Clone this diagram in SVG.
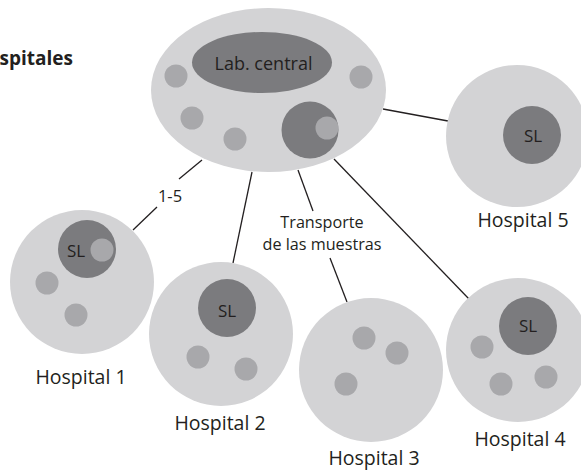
<svg xmlns="http://www.w3.org/2000/svg" width="581" height="473" viewBox="0 0 581 473">
<style>
.bg{fill:#d3d3d5}
.dk{fill:#7b7b7e}
.md{fill:#a8a8ab}
.ln{stroke:#231f20;stroke-width:1.3;fill:none}
text{font-family:"Open Sans","Liberation Sans",sans-serif;fill:#231f20}
.lbl{font-size:19.5px;text-anchor:middle}
.sl{font-size:17px;text-anchor:middle}
.sm{font-size:16.5px;text-anchor:middle}
.tr{font-size:16.2px;text-anchor:middle}
</style>
<rect width="581" height="473" fill="#ffffff"/>
<text x="73" y="65" style="font-size:19px;font-weight:bold;text-anchor:end">spitales</text>
<g id="connectors">
<line class="ln" x1="202" y1="160" x2="179" y2="179"/>
<line class="ln" x1="157" y1="207" x2="133" y2="230"/>
<line class="ln" x1="252" y1="172" x2="233" y2="263"/>
<line class="ln" x1="298" y1="170" x2="313" y2="211"/>
<line class="ln" x1="330" y1="258" x2="347" y2="302"/>
<line class="ln" x1="334" y1="159" x2="469" y2="299"/>
<line class="ln" x1="383" y1="109" x2="448" y2="121"/>
<text class="sm" x="170" y="202">1-5</text>
<text class="tr" x="322" y="227.5">Transporte</text>
<text class="tr" x="322" y="249.6">de las muestras</text>
</g>
<g id="central">
<ellipse class="bg" cx="268.5" cy="90" rx="117.5" ry="82"/>
<ellipse class="dk" cx="262" cy="62.5" rx="70" ry="30.5"/>
<text x="263.5" y="70" style="font-size:18px;text-anchor:middle">Lab. central</text>
<circle class="md" cx="176" cy="76" r="11.5"/>
<circle class="md" cx="192" cy="118" r="11.5"/>
<circle class="md" cx="235" cy="139" r="11.5"/>
<circle class="md" cx="361" cy="77" r="11.5"/>
<circle class="dk" cx="310" cy="130" r="28.5"/>
<circle class="md" cx="327" cy="128" r="11.5"/>
</g>
<g id="hospital1">
<circle class="bg" cx="82" cy="282" r="72"/>
<circle class="dk" cx="87" cy="249" r="29"/>
<circle class="md" cx="102" cy="250" r="11.5"/>
<text class="sl" x="76" y="257">SL</text>
<circle class="md" cx="47" cy="283" r="11.5"/>
<circle class="md" cx="76" cy="315" r="11.5"/>
<text class="lbl" x="81" y="384">Hospital 1</text>
</g>
<g id="hospital2">
<circle class="bg" cx="221" cy="334" r="72"/>
<circle class="dk" cx="227" cy="308" r="29"/>
<text class="sl" x="227" y="317">SL</text>
<circle class="md" cx="198" cy="357" r="11.5"/>
<circle class="md" cx="246" cy="369" r="11.5"/>
<text class="lbl" x="220" y="430">Hospital 2</text>
</g>
<g id="hospital3">
<circle class="bg" cx="371" cy="370" r="72"/>
<circle class="md" cx="364" cy="338" r="11.5"/>
<circle class="md" cx="397" cy="353" r="11.5"/>
<circle class="md" cx="346" cy="384" r="11.5"/>
<text class="lbl" x="374" y="465">Hospital 3</text>
</g>
<g id="hospital4">
<circle class="bg" cx="518" cy="350" r="72"/>
<circle class="dk" cx="528" cy="326" r="29"/>
<text class="sl" x="528" y="332">SL</text>
<circle class="md" cx="482" cy="347" r="11.5"/>
<circle class="md" cx="501" cy="384" r="11.5"/>
<circle class="md" cx="546" cy="377" r="11.5"/>
<text class="lbl" x="520" y="446">Hospital 4</text>
</g>
<g id="hospital5">
<circle class="bg" cx="517" cy="136" r="71"/>
<circle class="dk" cx="532" cy="135" r="29"/>
<text class="sl" x="533" y="142">SL</text>
<text class="lbl" x="523" y="227">Hospital 5</text>
</g>
</svg>
